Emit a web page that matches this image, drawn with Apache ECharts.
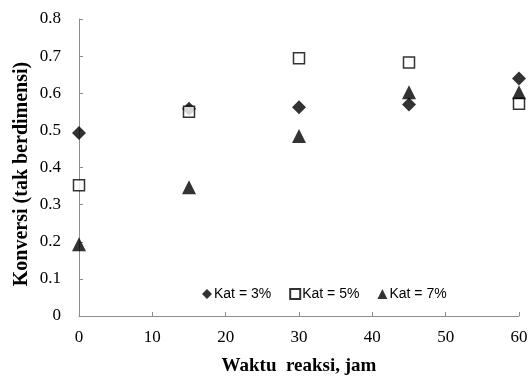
<!DOCTYPE html>
<html><head><meta charset="utf-8">
<script src="https://cdn.jsdelivr.net/npm/echarts@6/dist/echarts.min.js"></script>
<style>html,body{margin:0;padding:0;background:#fff}#c{width:531px;height:381px}</style>
</head><body><div id="c"></div>
<script>
var xTimes = [0, 15, 30, 45, 60];
var kat3 = [0.493, 0.558, 0.562, 0.570, 0.640];
var kat5 = [0.352, 0.550, 0.694, 0.683, 0.572];
var kat7 = [0.193, 0.347, 0.485, 0.603, 0.603];
var seriesNames = ['Kat = 3%', 'Kat = 5%', 'Kat = 7%'];
var xTitle = 'Waktu  reaksi, jam';
var yTitle = 'Konversi (tak berdimensi)';

function pairs(v){ return xTimes.map(function(x,i){ return [x, v[i]]; }); }
var serif = 'Liberation Serif, Times New Roman, serif';
var chart = echarts.init(document.getElementById('c'), null, {renderer:'canvas'});
chart.setOption({
  animation:false,
  backgroundColor:'#fff',
  grid:{left:79, right:12, top:19, bottom:60},
  xAxis:{type:'value', min:0, max:60, interval:10,
    name:xTitle, nameLocation:'middle', nameGap:41,
    nameTextStyle:{fontFamily:serif, fontSize:19, fontWeight:'bold', color:'#000'},
    axisLine:{lineStyle:{color:'#8c8c8c', width:1}},
    axisTick:{inside:true, length:4, lineStyle:{color:'#8c8c8c'}},
    axisLabel:{fontFamily:serif, fontSize:17, color:'#000', margin:13},
    splitLine:{show:false}},
  yAxis:{type:'value', min:0, max:0.8, interval:0.1,
    axisLine:{show:true, lineStyle:{color:'#8c8c8c', width:1}},
    axisTick:{show:true, inside:true, length:4, lineStyle:{color:'#8c8c8c'}},
    axisLabel:{fontFamily:serif, fontSize:17, color:'#000', margin:18},
    splitLine:{show:false}},
  graphic:[{type:'text', x:22, y:174, rotation:Math.PI/2,
    style:{text:yTitle, font:'bold 20px '+serif, fill:'#000', align:'center', verticalAlign:'middle'}}],
  legend:{left:197, top:282, itemWidth:10, itemHeight:10, itemGap:18,
    textStyle:{fontFamily:'Liberation Sans, Arial, sans-serif', fontSize:14, color:'#000', padding:[0,0,0,-3]},
    data:[{name:seriesNames[0], icon:'diamond'},{name:seriesNames[1], icon:'rect'},{name:seriesNames[2], icon:'triangle'}]},
  series:[
    {name:seriesNames[0], type:'scatter', symbol:'diamond', symbolSize:14, data:pairs(kat3),
      itemStyle:{color:'#000'}},
    {name:seriesNames[1], type:'scatter', symbol:'rect', symbolSize:11, data:pairs(kat5),
      itemStyle:{color:'#fff', borderColor:'#000', borderWidth:1.5}},
    {name:seriesNames[2], type:'scatter', symbol:'triangle', symbolSize:14, data:pairs(kat7),
      itemStyle:{color:'#000'}}
  ]
});
</script></body></html>
